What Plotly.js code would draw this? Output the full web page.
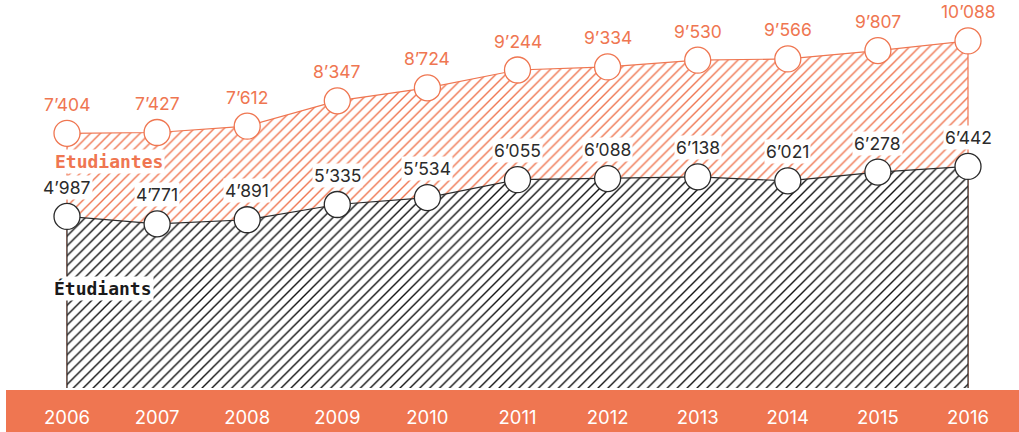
<!DOCTYPE html>
<html>
<head>
<meta charset="utf-8">
<script src="https://cdn.plot.ly/plotly-3.0.1.min.js"></script>
<style>html,body{margin:0;padding:0;background:#fff;}#chart{width:1019px;height:432px;}</style>
</head>
<body>
<div id="chart"></div>
<script>
var years = [2006, 2007, 2008, 2009, 2010, 2011, 2012, 2013, 2014, 2015, 2016];
var etudiantes = [7404, 7427, 7612, 8347, 8724, 9244, 9334, 9530, 9566, 9807, 10088];
var etudiants = [4987, 4771, 4891, 5335, 5534, 6055, 6088, 6138, 6021, 6278, 6442];
var seriesNames = ['Etudiantes', 'Étudiants'];

var ORANGE = '#EF7651';
var DARK = '#2b2b2b';

function fmt(v) {
  return String(v).replace(/\B(?=(\d{3})+(?!\d))/g, '\u2019');
}
function closed(xs, ys) {
  return {
    x: [xs[0]].concat(xs, [xs[xs.length - 1]]),
    y: [0].concat(ys, [0])
  };
}

var fShape = closed(years, etudiantes);
var mShape = closed(years, etudiants);

var traces = [
  {
    x: fShape.x, y: fShape.y, type: 'scatter', mode: 'lines', fill: 'toself',
    fillcolor: 'rgba(0,0,0,0)',
    fillpattern: {shape: '/', fgcolor: ORANGE, bgcolor: '#ffffff', size: 7, solidity: 0.2},
    line: {color: ORANGE, width: 1.2}, hoverinfo: 'skip', showlegend: false
  },
  {
    x: mShape.x, y: mShape.y, type: 'scatter', mode: 'lines', fill: 'toself',
    fillcolor: 'rgba(0,0,0,0)',
    fillpattern: {shape: '/', fgcolor: '#111111', bgcolor: '#ffffff', size: 7, solidity: 0.2},
    line: {color: DARK, width: 1.2}, hoverinfo: 'skip', showlegend: false
  },
  {
    x: years, y: etudiantes, type: 'scatter', mode: 'markers',
    marker: {size: 26, color: '#ffffff', line: {color: ORANGE, width: 1.3}},
    hoverinfo: 'skip', showlegend: false
  },
  {
    x: years, y: etudiants, type: 'scatter', mode: 'markers',
    marker: {size: 26, color: '#ffffff', line: {color: DARK, width: 1.3}},
    hoverinfo: 'skip', showlegend: false
  }
];

var annotations = [];
years.forEach(function (yr, i) {
  annotations.push({
    x: yr, y: etudiantes[i], xref: 'x', yref: 'y', text: fmt(etudiantes[i]),
    showarrow: false, yshift: 29, bgcolor: '#ffffff', borderpad: 1,
    font: {family: 'Inter, "Open Sans", sans-serif', size: 17.5, color: ORANGE}
  });
  annotations.push({
    x: yr, y: etudiants[i], xref: 'x', yref: 'y', text: fmt(etudiants[i]),
    showarrow: false, yshift: 29, bgcolor: '#ffffff', borderpad: 1,
    font: {family: 'Inter, "Open Sans", sans-serif', size: 17.5, color: DARK}
  });
});
annotations.push({
  x: years[0], xref: 'x', xanchor: 'left', xshift: -14,
  y: 0.587, yref: 'paper', yanchor: 'middle',
  text: '<b>' + seriesNames[0] + '</b>', showarrow: false, bgcolor: '#ffffff', borderpad: 1,
  font: {family: '"DejaVu Sans Mono", "Liberation Mono", monospace', size: 18, color: ORANGE}
});
annotations.push({
  x: years[0], xref: 'x', xanchor: 'left', xshift: -15,
  y: 0.259, yref: 'paper', yanchor: 'middle',
  text: '<b>' + seriesNames[1] + '</b>', showarrow: false, bgcolor: '#ffffff', borderpad: 1,
  font: {family: '"DejaVu Sans Mono", "Liberation Mono", monospace', size: 18, color: '#1a1a1a'}
});

var layout = {
  width: 1019, height: 432,
  margin: {l: 6, r: 0, t: 0, b: 42, pad: 0},
  paper_bgcolor: '#ffffff', plot_bgcolor: 'rgba(0,0,0,0)',
  hovermode: false,
  xaxis: {
    range: [2005.323, 2016.566], tickmode: 'array', tickvals: years,
    ticktext: years.map(String), showgrid: false, zeroline: false, showline: false,
    ticks: 'outside', ticklen: 11, tickcolor: 'rgba(0,0,0,0)',
    tickfont: {family: 'Inter, "Open Sans", sans-serif', size: 18.5, color: '#ffffff'},
    fixedrange: true
  },
  yaxis: {
    range: [-58, 11279], showgrid: false, zeroline: false, showline: false,
    showticklabels: false, ticks: '', fixedrange: true
  },
  shapes: [{
    type: 'rect', xref: 'paper', yref: 'paper', x0: 0, x1: 1, y0: -42 / 390, y1: 0,
    fillcolor: ORANGE, line: {width: 0}, layer: 'below'
  }],
  annotations: annotations
};

Plotly.newPlot('chart', traces, layout, {displayModeBar: false, staticPlot: true});
</script>
</body>
</html>
